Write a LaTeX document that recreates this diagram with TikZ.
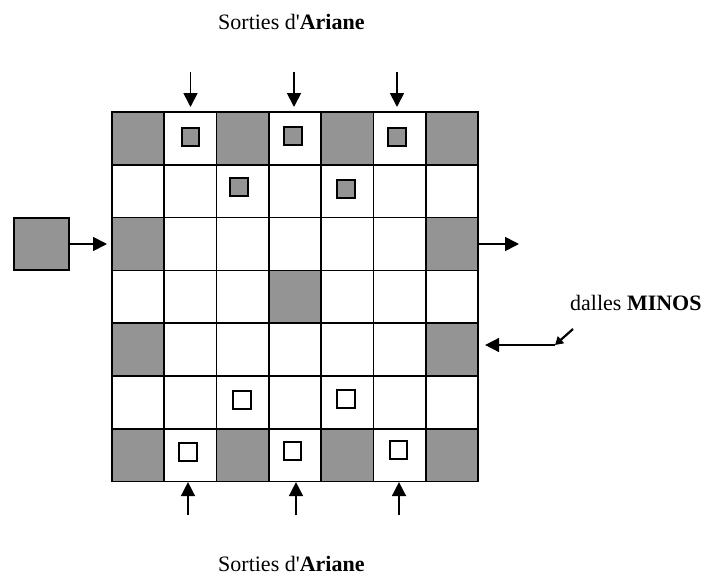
\documentclass[tikz,border=0pt]{standalone}
\usepackage{fontspec}
\setmainfont{Liberation Serif}
\usetikzlibrary{arrows.meta}
\begin{document}
\begin{tikzpicture}[x=1pt,y=-1pt,
  cell/.style={draw=black,line width=1.7pt,minimum width=52.3pt,minimum height=52.8pt,inner sep=0pt,outer sep=0pt},
  smallsq/.style={draw=black,line width=1.7pt,minimum size=17.5pt,inner sep=0pt},
  darkfill/.style={fill=black!42},
  arr/.style={line width=1.7pt,-{Triangle[length=14pt,width=14pt]}},
  smallarr/.style={line width=2.2pt,-{Triangle[length=8pt,width=9pt]}},
  lbl/.style={font=\fontsize{22}{26}\selectfont,inner sep=0pt}]
\useasboundingbox (0,0) rectangle (704,576);

% grid of cells
\foreach \r in {0,...,6}{
  \foreach \c in {0,...,6}{
    \pgfmathtruncatemacro\dk{((mod(\r,2)==0 && mod(\c,2)==0) && (\r==0 || \r==6 || \c==0 || \c==6)) || (\r==3 && \c==3)}
    \ifnum\dk=1 \def\cf{black!42}\else\def\cf{white}\fi
    \node[cell,fill=\cf] (c\r\c) at ({112+52.3*(\c+0.5)},{112+52.8*(\r+0.5)}) {};
  }
}

% small squares
\node[smallsq,darkfill] (s01) at (190.5,137) {};
\node[smallsq,darkfill] (s03) at (293,136) {};
\node[smallsq,darkfill] (s05) at (397,137) {};
\node[smallsq,darkfill] (s12) at (239,187) {};
\node[smallsq,darkfill] (s14) at (346,189) {};
\node[smallsq] (s52) at (242,400) {};
\node[smallsq] (s54) at (346,399) {};
\node[smallsq] (s61) at (188,452) {};
\node[smallsq] (s63) at (292.5,451) {};
\node[smallsq] (s65) at (398.5,450) {};

% left tile
\node[draw=black,line width=1.7pt,darkfill,minimum width=55pt,minimum height=52pt,inner sep=0pt] (src) at (41.5,244) {};

% top arrows
\coordinate (t1) at (190.5,72);
\coordinate (t3) at (294,72);
\coordinate (t5) at (397,72);
\draw[arr,shorten >=5pt] (t1) -- (t1 |- c01.north);
\draw[arr,shorten >=5pt] (t3) -- (t3 |- c03.north);
\draw[arr,shorten >=5pt] (t5) -- (t5 |- c05.north);

% bottom arrows
\coordinate (b1) at (188,515);
\coordinate (b3) at (296,515);
\coordinate (b5) at (399,515);
\draw[arr,shorten >=0.5pt] (b1) -- (b1 |- c61.south);
\draw[arr,shorten >=0.5pt] (b3) -- (b3 |- c63.south);
\draw[arr,shorten >=0.5pt] (b5) -- (b5 |- c65.south);

% side arrows
\draw[arr,shorten >=5pt] (src.east) -- (c20.west);
\coordinate (rout) at (519,244);
\draw[arr] (c26.east) -- (rout);

% MINOS arrow
\coordinate (m1) at (573,329);
\coordinate (m2) at (555,345);
\draw[smallarr] (m1) -- (m2);
\draw[arr,shorten >=7pt] (m2) -- (m2 -| c46.east);

% labels
\node[lbl,anchor=base west] (ttop) at (218,29) {Sorties d\textquotesingle\textbf{Ariane}};
\node[lbl,anchor=base west] (tbot) at (218,571) {Sorties d\textquotesingle\textbf{Ariane}};
\node[lbl,anchor=base west] (tmin) at (570,310) {dalles \textbf{MINOS}};
\end{tikzpicture}
\end{document}
